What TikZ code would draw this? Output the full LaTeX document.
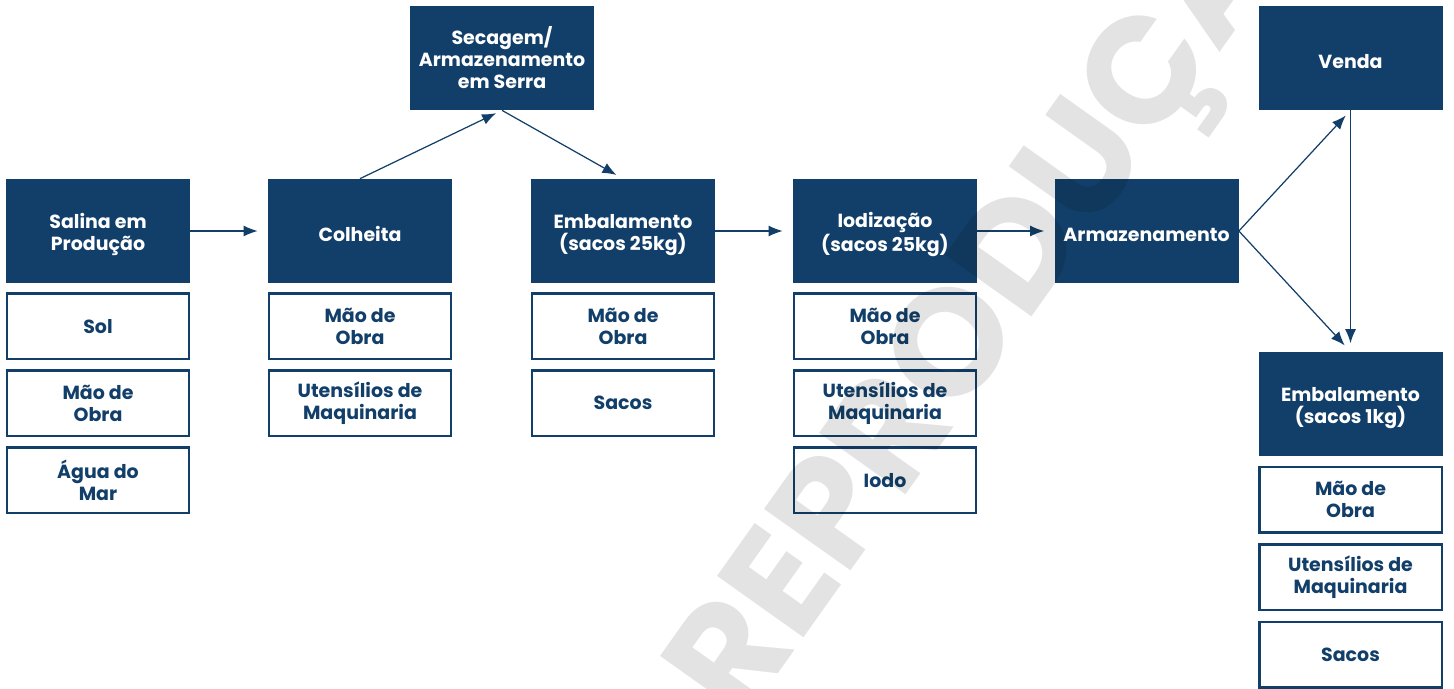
\documentclass[tikz,border=0pt]{standalone}
\usepackage{fontspec}
\setmainfont{Poppins}
\usetikzlibrary{arrows.meta}
\usetikzlibrary{positioning}
\definecolor{navy}{HTML}{123F69}
\newcommand{\sobe}{\rule{0pt}{12.7pt}}

\begin{document}
\begin{tikzpicture}[node distance=0.18cm,
    stage/.style={rectangle, fill=navy, text=white, font=\fontsize{10.8}{12.5}\selectfont\bfseries, align=center, minimum width=3.68cm, minimum height=2.08cm, inner sep=0pt, execute at begin node={\rule{0pt}{11.6pt}}},
    input/.style={rectangle, draw=navy, line width=1.4pt, fill=white, text=navy, font=\fontsize{10.8}{12.5}\selectfont\bfseries, align=center, minimum width=3.65cm, minimum height=1.31cm, inner sep=0pt},
    flow/.style={draw=navy, line width=0.7pt, -{Latex[length=0.28cm,width=0.22cm]}}]
    \useasboundingbox (0,0) rectangle (29.08,-13.76);

    % Main stages
    \node [stage] (salina) at (1.96,-4.62) {\sobe Salina em\\Produção};
    \node [stage] (colheita) at (7.20,-4.62) {Colheita};
    \node [stage] (secagem) at (10.04,-1.16) {Secagem/\\Armazenamento\\em Serra};
    \node [stage] (emb25) at (12.46,-4.62) {\sobe Embalamento\\(sacos 25kg)};
    \node [stage] (iodizacao) at (17.70,-4.62) {\sobe Iodização\\(sacos 25kg)};
    \node [stage] (armazenamento) at (22.93,-4.62) {Armazenamento};
    \node [stage] (venda) at (27.01,-1.16) {Venda};
    \node [stage] (emb1) at (27.01,-8.08) {\sobe Embalamento\\(sacos 1kg)};

    % Inputs
    \node [input, below=of salina] (sol) {Sol};
    \node [input, below=of sol] (maosalina) {Mão de\\Obra};
    \node [input, below=of maosalina] (agua) {Água do\\Mar};

    \node [input, below=of colheita] (maocolheita) {Mão de\\Obra};
    \node [input, below=of maocolheita] (utencolheita) {Utensílios de\\Maquinaria};

    \node [input, below=of emb25] (maoemb) {Mão de\\Obra};
    \node [input, below=of maoemb] (sacosemb) {Sacos};

    \node [input, below=of iodizacao] (maoiod) {Mão de\\Obra};
    \node [input, below=of maoiod] (uteniod) {Utensílios de\\Maquinaria};
    \node [input, below=of uteniod] (iodo) {Iodo};

    \node [input, below=0.19cm of emb1] (maoemb1) {Mão de\\Obra};
    \node [input, below=0.19cm of maoemb1] (utenemb1) {Utensílios de\\Maquinaria};
    \node [input, below=0.19cm of utenemb1] (sacosemb1) {Sacos};

    % Arrows
    \draw [flow, shorten >=0.2cm] (salina) -- (colheita);
    \draw [flow, shorten >=0.13cm] (colheita.north) -- (secagem.south);
    \draw [flow, shorten >=0.15cm] (secagem.south) -- (emb25.north);
    \draw [flow, shorten >=0.2cm] (emb25) -- (iodizacao);
    \draw [flow, shorten >=0.2cm] (iodizacao) -- (armazenamento);
    \draw [flow, shorten >=0.14cm] (armazenamento.east) -- (venda.south);
    \draw [flow, shorten >=0.17cm] (armazenamento.east) -- (emb1.north);
    \draw [flow, shorten >=0.17cm] (venda.south) -- (emb1.north);

    % Watermark
    \node [rotate=54.6, text=black, text opacity=0.11, font=\fontsize{86}{86}\selectfont\bfseries] (marca) at (20.16,-5.38) {REPRODUÇÃO};

\end{tikzpicture}
\end{document}
